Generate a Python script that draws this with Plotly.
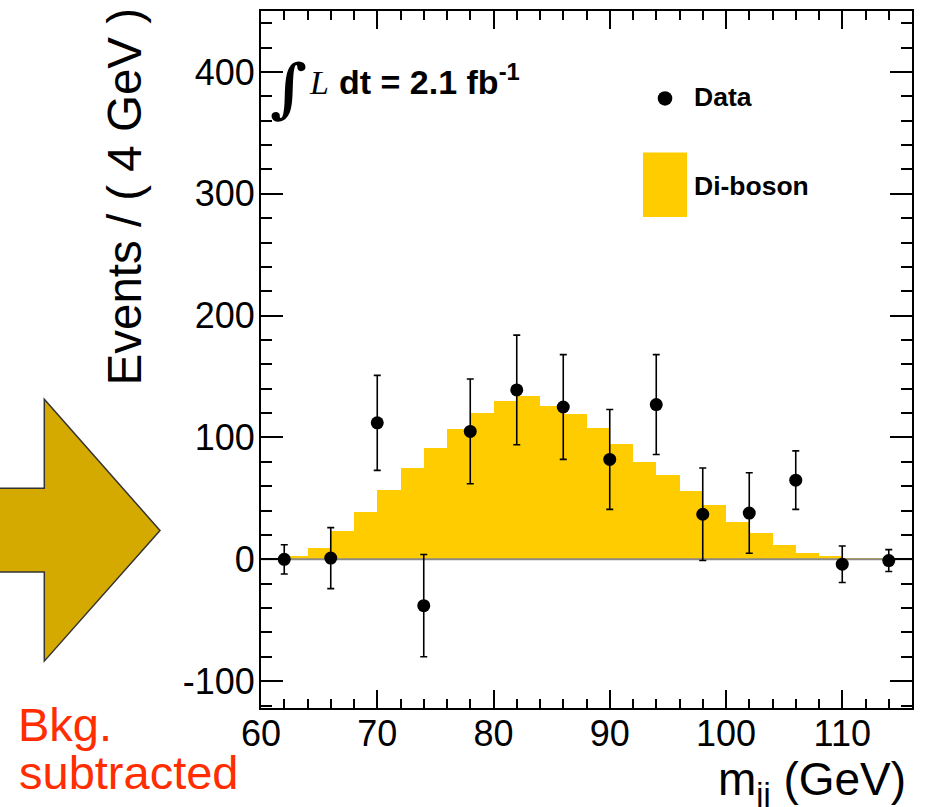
import plotly.graph_objects as go

# ---------------- data ----------------
bin_centers = [62, 66, 70, 74, 78, 82, 86, 90, 94, 98, 102, 106, 110, 114]
data_vals = [0, 1, 112, -38, 105, 139, 125, 82, 127, 37, 38, 65, -4, -1]
data_errs = [12, 25, 39, 42, 43, 45, 43, 41, 41, 38, 33, 24, 15, 9]

hist_low_edges = list(range(60, 116, 2))
hist_width = 2
diboson_vals = [1.5, 2.5, 9, 23, 39, 57, 75, 91, 107, 120, 130, 134, 126, 119,
                108, 95, 80, 69, 56, 45, 31, 22, 12, 5.5, 3, 1.2, 0.6, 0.3]

x_range = [60, 116]
y_range = [-122, 450]
y_tickvals = [-100, 0, 100, 200, 300, 400]
y_ticktext = ["-100", "0", "100", "200", "300", "400"]
x_tickvals = [60, 70, 80, 90, 100, 110]
x_ticktext = ["60", "70", "80", "90", "100", "110"]

# ---------------- layout helpers (pixel -> paper) ----------------
W, H = 927, 807
ML, MR, MT, MB = 261, 15, 9, 99
PL, PR, PT, PB = ML, W - MR, MT, H - MB


def px(x):
    return (x - PL) / (PR - PL)


def py(y):
    return (PB - y) / (PB - PT)


SANS = "Liberation Sans"
SERIF = "Liberation Serif"
YELLOW = "#FFCC00"
RED = "#FF2D00"

fig = go.Figure()

fig.add_trace(go.Bar(
    x=[e + hist_width / 2 for e in hist_low_edges],
    y=diboson_vals,
    width=hist_width,
    marker=dict(color=YELLOW, line=dict(width=0)),
    name="Di-boson",
    hoverinfo="x+y",
))

fig.add_trace(go.Scatter(
    x=x_range, y=[0, 0], mode="lines",
    line=dict(color="#8a8a8a", width=2),
    hoverinfo="skip", showlegend=False,
))

fig.add_trace(go.Scatter(
    x=bin_centers, y=data_vals, mode="markers",
    marker=dict(color="black", size=13, symbol="circle"),
    error_y=dict(type="data", array=data_errs, visible=True,
                 color="black", thickness=1.6, width=3.5),
    name="Data",
))

annotations = [
    dict(text="<b>\u222B</b>", x=px(288), y=py(86), xanchor="center", yanchor="middle",
         font=dict(family="DejaVu Serif", size=64, color="black")),
    dict(text="<i>L</i>", x=px(307), y=py(93.3 + 0.212 * 34 + 1), xanchor="left",
         yanchor="bottom", font=dict(family=SERIF, size=34, color="black")),
    dict(text="<b>dt = 2.1 fb<sup>-1</sup></b>", x=px(337), y=py(93.3 + 0.212 * 34 + 1),
         xanchor="left", yanchor="bottom", font=dict(family=SANS, size=34, color="black")),
    dict(text="<b>Data</b>", x=px(692), y=py(106 + 0.212 * 26.5 + 1), xanchor="left",
         yanchor="bottom", font=dict(family=SANS, size=26.5, color="black")),
    dict(text="<b>Di-boson</b>", x=px(692), y=py(195 + 0.212 * 26.5 + 1), xanchor="left",
         yanchor="bottom", font=dict(family=SANS, size=26.5, color="black")),
    dict(text="Events / ( 4 GeV )", x=px(124), y=py(195), xanchor="center",
         yanchor="middle", textangle=-90, font=dict(family=SANS, size=47.5, color="black")),
    dict(text="m<sub>jj</sub> (GeV)", x=px(908), y=py(751), xanchor="right",
         yanchor="top", font=dict(family=SANS, size=46, color="black")),
    dict(text="Bkg.", x=px(16), y=py(741.7 + 0.212 * 47 + 1), xanchor="left",
         yanchor="bottom", font=dict(family=SANS, size=47, color=RED)),
    dict(text="subtracted", x=px(17), y=py(790 + 0.212 * 47 + 1), xanchor="left",
         yanchor="bottom", font=dict(family=SANS, size=47, color=RED)),
]
for a in annotations:
    a.update(xref="paper", yref="paper", showarrow=False)

# arrow (decoration outside the frame)
arrow_pts = [(-5, 487.7), (44.3, 487.7), (44.3, 398.3), (160, 530),
             (44.3, 661), (44.3, 571.7), (-5, 571.7)]
arrow_path = "M " + " L ".join(f"{px(x):.5f},{py(y):.5f}" for x, y in arrow_pts) + " Z"

shapes = [
    dict(type="path", path=arrow_path, xref="paper", yref="paper",
         fillcolor="#D5AA00", line=dict(color="#333333", width=1.5), layer="above"),
    dict(type="rect", xref="paper", yref="paper", x0=px(643), x1=px(687),
         y0=py(215.5), y1=py(151), fillcolor=YELLOW, line=dict(width=0)),
    dict(type="circle", xref="paper", yref="paper", x0=px(665 - 7.3), x1=px(665 + 7.3),
         y0=py(96.7 + 7.3), y1=py(96.7 - 7.3), fillcolor="black", line=dict(width=0)),
]

fig.update_layout(
    width=W, height=H,
    margin=dict(l=ML, r=MR, t=MT, b=MB),
    paper_bgcolor="white", plot_bgcolor="white",
    showlegend=False, bargap=0,
    annotations=annotations, shapes=shapes,
    font=dict(family=SANS, color="black"),
)

fig.update_xaxes(
    range=x_range, tickvals=x_tickvals, ticktext=x_ticktext,
    ticks="inside", ticklen=18, tickwidth=2, tickcolor="black",
    minor=dict(dtick=2, ticks="inside", ticklen=9, tickwidth=1.5, tickcolor="black"),
    showline=True, linewidth=2, linecolor="black", mirror="allticks",
    showgrid=False, zeroline=False, ticklabelstandoff=-7,
    tickfont=dict(family=SANS, size=36, color="black"),
)
fig.update_yaxes(
    range=y_range, tickvals=y_tickvals, ticktext=y_ticktext,
    ticks="inside", ticklen=22, tickwidth=2, tickcolor="black",
    minor=dict(dtick=20, tick0=0, ticks="inside", ticklen=11, tickwidth=1.5, tickcolor="black"),
    showline=True, linewidth=2, linecolor="black", mirror="allticks",
    showgrid=False, zeroline=False, ticklabelstandoff=-3,
    tickfont=dict(family=SANS, size=36, color="black"),
)

fig.write_html("out.html")
